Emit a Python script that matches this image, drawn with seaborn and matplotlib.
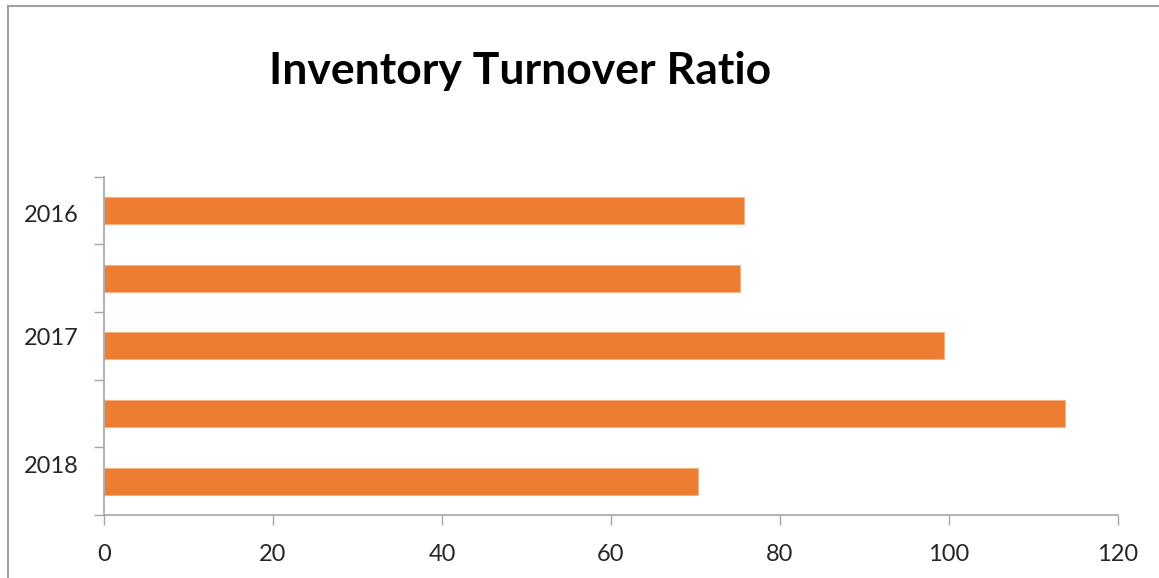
import matplotlib
matplotlib.use("Agg")
import matplotlib.pyplot as plt
from matplotlib.patches import Rectangle
import seaborn as sns
import pandas as pd

# Inventory turnover ratio per reporting period
periods = ["2016", "2016-17", "2017", "2017-18", "2018"]
turnover = [75.7, 75.3, 99.4, 113.7, 70.3]
year_labels = ["2016", "2017", "2018"]
x_ticks = [0, 20, 40, 60, 80, 100, 120]

df = pd.DataFrame({"period": periods, "turnover": turnover})

sns.set_theme(style="white")
plt.rcParams["font.family"] = ["Lato", "DejaVu Sans"]

W, H = 1159, 578
fig = plt.figure(figsize=(W / 100, H / 100), dpi=100)
ax = fig.add_axes([104 / W, 1 - 515 / H, (1118 - 104) / W, (515 - 176.7) / H])

sns.barplot(data=df, x="turnover", y="period", order=periods, color="#ED7D31",
            saturation=1, width=0.4, ax=ax, orient="h")
for p in ax.patches:
    p.set_edgecolor("#F4B183")
    p.set_linewidth(0.8)

ax.set_xlim(0, 120)
ax.set_ylim(4.5, -0.5)
ax.set_xticks(x_ticks)
ax.set_xticklabels([str(t) for t in x_ticks], fontsize=17)

# category boundaries carry the tick marks; year names sit between them
ax.set_yticks([i - 0.5 for i in range(len(periods) + 1)])
ax.set_yticklabels([])
ax.set_yticks([0.04, 1.86, 3.76], minor=True)
ax.set_yticklabels(year_labels, minor=True, fontsize=17)
ax.tick_params(axis="y", which="minor", length=0, pad=18)
ax.tick_params(axis="y", which="major", length=7, width=1, color="#A6A6A6",
               direction="out", left=True)
ax.tick_params(axis="x", which="major", length=7, width=1, color="#A6A6A6",
               direction="out", bottom=True, pad=14)

ax.set_xlabel("")
ax.set_ylabel("")
for side in ["top", "right"]:
    ax.spines[side].set_visible(False)
for side in ["left", "bottom"]:
    ax.spines[side].set_color("#A6A6A6")
    ax.spines[side].set_linewidth(1.2)
ax.grid(False)

fig.text(520 / W, 1 - 71 / H, "Inventory Turnover Ratio", ha="center", va="center",
         fontsize=32, fontweight="bold", color="black")

# chart-area frame
fig.patches.append(Rectangle((8 / W, -0.1), 1.2, 1 - 6 / H + 0.1, transform=fig.transFigure,
                             fill=False, edgecolor="#A0A0A0", linewidth=1.5))

fig.savefig("out.png", dpi=100)
